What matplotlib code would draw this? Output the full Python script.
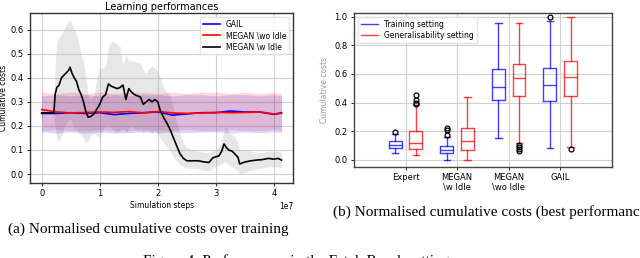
import matplotlib

matplotlib.use("Agg")
import matplotlib.pyplot as plt
from matplotlib.lines import Line2D

# ---- (a) learning curves, x in units of 1e7 simulation steps ----
steps_idle = [0.00, 0.10, 0.21, 0.23, 0.26, 0.30, 0.34, 0.38, 0.42, 0.46, 0.49, 0.52,
              0.56, 0.60, 0.64, 0.68, 0.72, 0.76, 0.80, 0.85, 0.90, 0.95, 1.00, 1.05,
              1.10, 1.15, 1.20, 1.25, 1.30, 1.35, 1.40, 1.45, 1.50, 1.55, 1.60, 1.65,
              1.70, 1.75, 1.80, 1.85, 1.90, 1.95, 2.00, 2.04, 2.10, 2.16, 2.22, 2.27,
              2.32, 2.38, 2.44, 2.50, 2.60, 2.70, 2.80, 2.88, 2.95, 3.05, 3.10, 3.14,
              3.18, 3.22, 3.28, 3.34, 3.38, 3.41, 3.50, 3.60, 3.70, 3.80, 3.90, 4.00,
              4.07, 4.13]
megan_w_mean = [0.254, 0.254, 0.254, 0.33, 0.36, 0.37, 0.40, 0.41, 0.42, 0.43, 0.444, 0.42,
                0.40, 0.385, 0.35, 0.33, 0.30, 0.26, 0.236, 0.24, 0.25, 0.27, 0.29, 0.32,
                0.33, 0.375, 0.365, 0.36, 0.355, 0.36, 0.37, 0.31, 0.355, 0.34, 0.33, 0.325,
                0.32, 0.29, 0.30, 0.31, 0.30, 0.31, 0.30, 0.265, 0.235, 0.21, 0.18, 0.15,
                0.12, 0.085, 0.065, 0.055, 0.055, 0.055, 0.05, 0.048, 0.068, 0.075, 0.095, 0.125,
                0.11, 0.10, 0.095, 0.08, 0.07, 0.042, 0.05, 0.055, 0.058, 0.06, 0.065, 0.062,
                0.065, 0.058]
megan_w_hi = [0.254, 0.254, 0.26, 0.45, 0.55, 0.57, 0.58, 0.60, 0.62, 0.635, 0.64, 0.62,
              0.60, 0.58, 0.54, 0.50, 0.47, 0.40, 0.33, 0.31, 0.33, 0.40, 0.44, 0.44,
              0.45, 0.53, 0.55, 0.55, 0.54, 0.53, 0.45, 0.50, 0.47, 0.47, 0.47, 0.465,
              0.46, 0.43, 0.42, 0.44, 0.45, 0.44, 0.43, 0.40, 0.36, 0.34, 0.32, 0.27,
              0.22, 0.17, 0.13, 0.11, 0.10, 0.095, 0.09, 0.09, 0.10, 0.11, 0.14, 0.18,
              0.20, 0.17, 0.165, 0.15, 0.13, 0.10, 0.10, 0.095, 0.09, 0.09, 0.095, 0.095,
              0.095, 0.09]
megan_w_lo = [0.254, 0.254, 0.25, 0.20, 0.15, 0.135, 0.16, 0.19, 0.21, 0.22, 0.23, 0.21,
              0.19, 0.19, 0.17, 0.16, 0.15, 0.13, 0.14, 0.16, 0.17, 0.16, 0.15, 0.18,
              0.20, 0.21, 0.19, 0.18, 0.17, 0.18, 0.19, 0.17, 0.19, 0.20, 0.19, 0.18,
              0.18, 0.17, 0.18, 0.18, 0.17, 0.18, 0.17, 0.15, 0.13, 0.11, 0.09, 0.07,
              0.055, 0.04, 0.03, 0.025, 0.025, 0.02, 0.015, 0.01, 0.03, 0.035, 0.04, 0.05,
              0.05, 0.04, 0.03, 0.02, 0.01, 0.0, 0.005, 0.015, 0.02, 0.025, 0.03, 0.03,
              0.03, 0.025]

steps_flat = [0, 0.25, 0.5, 0.75, 1.0, 1.25, 1.5, 1.75, 2.0, 2.25, 2.5, 2.75, 3.0,
              3.25, 3.5, 3.75, 4.0, 4.13]
gail_mean = [0.252, 0.252, 0.255, 0.252, 0.255, 0.247, 0.252, 0.255, 0.258, 0.245,
             0.25, 0.255, 0.255, 0.262, 0.258, 0.258, 0.248, 0.255]
gail_hi = [0.325, 0.33, 0.325, 0.33, 0.325, 0.33, 0.325, 0.33, 0.33, 0.325, 0.33,
           0.33, 0.325, 0.33, 0.33, 0.325, 0.33, 0.325]
gail_lo = [0.175, 0.17, 0.175, 0.17, 0.175, 0.17, 0.172, 0.175, 0.17, 0.175, 0.172,
           0.175, 0.175, 0.17, 0.175, 0.172, 0.175, 0.172]
megan_wo_mean = [0.268, 0.258, 0.254, 0.256, 0.258, 0.256, 0.26, 0.254, 0.26, 0.254,
                 0.252, 0.254, 0.256, 0.255, 0.256, 0.258, 0.25, 0.252]
megan_wo_hi = [0.34, 0.335, 0.34, 0.335, 0.34, 0.335, 0.34, 0.34, 0.335, 0.34, 0.335,
               0.34, 0.34, 0.335, 0.34, 0.335, 0.34, 0.335]
megan_wo_lo = [0.18, 0.185, 0.18, 0.18, 0.185, 0.18, 0.18, 0.185, 0.18, 0.18, 0.185,
               0.18, 0.18, 0.185, 0.18, 0.18, 0.185, 0.18]

# ---- (b) box plots: (whislo, q1, med, q3, whishi, fliers) ----
methods = ["Expert", "MEGAN\n\\w Idle", "MEGAN\n\\wo Idle", "GAIL"]
train_boxes = [
    (0.05, 0.08, 0.10, 0.13, 0.18, [0.195]),
    (0.0, 0.045, 0.065, 0.095, 0.16, [0.17, 0.21, 0.22]),
    (0.155, 0.415, 0.505, 0.635, 0.955, []),
    (0.08, 0.41, 0.52, 0.64, 0.97, [1.0]),
]
general_boxes = [
    (0.03, 0.075, 0.12, 0.20, 0.38, [0.39, 0.40, 0.42, 0.45]),
    (0.0, 0.07, 0.13, 0.22, 0.44, []),
    (0.12, 0.445, 0.57, 0.67, 0.955, [0.06, 0.075, 0.09, 0.10]),
    (0.09, 0.445, 0.575, 0.69, 1.0, [0.075]),
]

S = 1e7
fig = plt.figure(figsize=(6.4, 2.58), dpi=100)
fs = 6

# ---------------- left panel ----------------
ax = fig.add_axes([0.047, 0.291, 0.411, 0.659])
xs_i = [s * S for s in steps_idle]
xs_f = [s * S for s in steps_flat]
ax.fill_between(xs_i, megan_w_lo, megan_w_hi, color="#b0b0b0", alpha=0.3, lw=0)
ax.fill_between(xs_f, gail_lo, gail_hi, color="blue", alpha=0.15, lw=0)
ax.fill_between(xs_f, megan_wo_lo, megan_wo_hi, color="red", alpha=0.15, lw=0)
ax.plot(xs_f, gail_mean, color="blue", lw=1.2, label="GAIL")
ax.plot(xs_f, megan_wo_mean, color="red", lw=1.2, label="MEGAN \\wo Idle")
ax.plot(xs_i, megan_w_mean, color="black", lw=1.2, label="MEGAN \\w Idle")
ax.set_xlim(-0.2 * S, 4.33 * S)
ax.set_ylim(-0.037, 0.67)
ax.set_xticks([0, S, 2 * S, 3 * S, 4 * S])
ax.set_yticks([0.0, 0.1, 0.2, 0.3, 0.4, 0.5, 0.6])
ax.grid(True, color="#d0d0d0", lw=0.8)
ax.set_axisbelow(True)
ax.tick_params(labelsize=fs, length=2.5, width=0.6, pad=2)
ax.xaxis.get_offset_text().set_fontsize(fs - 0.5)
ax.set_title("Learning performances", fontsize=7, pad=2)
ax.set_xlabel("Simulation steps", fontsize=fs - 0.5, labelpad=2)
ax.set_ylabel("Cumulative costs", fontsize=fs - 0.5, labelpad=2)
ax.legend(loc="upper right", fontsize=fs - 0.5, frameon=True, borderpad=0.4,
          handlelength=2.2, labelspacing=0.3, fancybox=False, edgecolor="#dddddd")
for sp in ax.spines.values():
    sp.set_color("#333333")
    sp.set_linewidth(1.0)

# ---------------- right panel ----------------
bx = fig.add_axes([0.553, 0.353, 0.403, 0.597])


def _stats(rows):
    return [dict(whislo=r[0], q1=r[1], med=r[2], q3=r[3], whishi=r[4], fliers=r[5])
            for r in rows]


def _draw(stats, pos, color):
    style = dict(color=color, lw=1.0, alpha=0.75)
    bx.bxp(stats, positions=pos, widths=0.25, boxprops=style, whiskerprops=style,
           capprops=style, medianprops=style,
           flierprops=dict(marker="o", markersize=3.5, markerfacecolor="none",
                           markeredgecolor="black", markeredgewidth=0.9))


_draw(_stats(train_boxes), [i + 1 - 0.2 for i in range(len(methods))], "blue")
_draw(_stats(general_boxes), [i + 1 + 0.2 for i in range(len(methods))], "red")
bx.set_xlim(0, 5)
bx.set_ylim(-0.05, 1.026)
bx.set_xticks(range(1, len(methods) + 1))
bx.set_xticklabels(methods, fontsize=fs, linespacing=1.0)
bx.set_yticks([0.0, 0.2, 0.4, 0.6, 0.8, 1.0])
bx.tick_params(labelsize=fs, length=2.5, width=0.6, pad=2)
bx.grid(True, color="#d0d0d0", lw=0.8)
bx.set_axisbelow(True)
bx.set_ylabel("Cumulative costs", fontsize=fs - 0.5, color="#999999", labelpad=4)
bx.legend(handles=[Line2D([], [], color="blue", alpha=0.75, lw=1.0),
                   Line2D([], [], color="red", alpha=0.75, lw=1.0)],
          labels=["Training setting", "Generalisability setting"],
          loc="upper left", fontsize=fs - 0.5, borderpad=0.4, handlelength=2.2,
          labelspacing=0.3, fancybox=False, edgecolor="#dddddd")
for sp in bx.spines.values():
    sp.set_color("#444444")
    sp.set_linewidth(1.0)

# ---------------- captions ----------------
cap = dict(family="Liberation Serif", fontsize=11)
fig.text(8 / 640, 1 - 229 / 258, "(a) Normalised cumulative costs over training",
         ha="left", va="center", **cap)
fig.text(333 / 640, 1 - 212 / 258, "(b) Normalised cumulative costs (best performance)",
         ha="left", va="center", **cap)
fig.text(143 / 640, 1 - 254 / 258, "Figure 4: Performances in the Fetch Reach setting",
         ha="left", va="top", **cap)

fig.savefig("out.png", dpi=100)
plt.close(fig)
